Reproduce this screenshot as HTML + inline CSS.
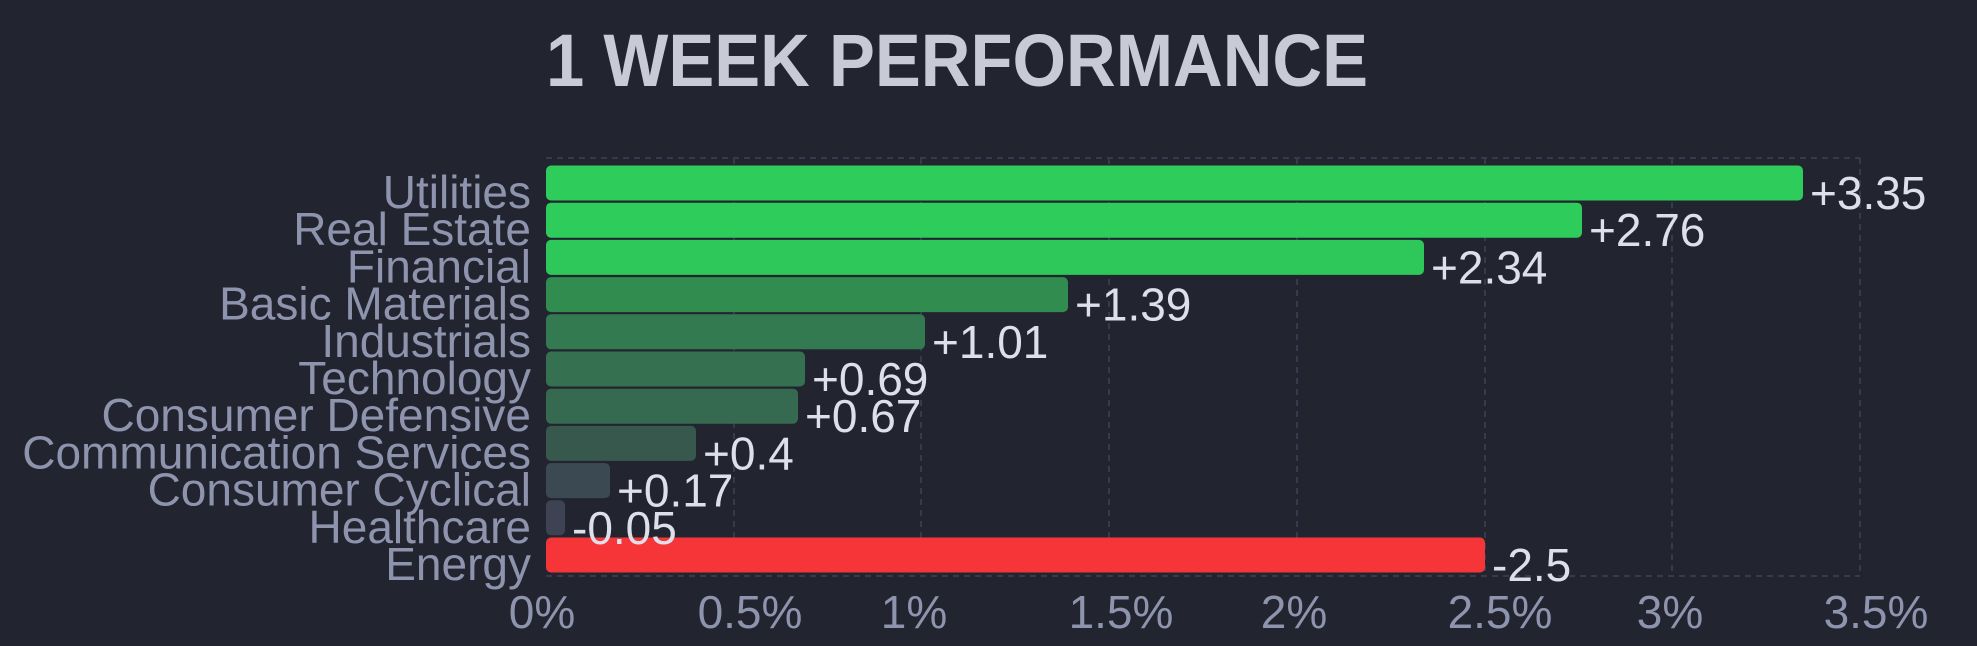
<!DOCTYPE html>
<html><head><style>
html,body{margin:0;padding:0;background:#22252f;}
svg{display:block;}
text{font-family:"Liberation Sans",sans-serif;}
</style></head><body>
<svg width="1977" height="646" viewBox="0 0 1977 646">
<rect width="1977" height="646" fill="#22252f"/>
<text x="546" y="86" font-size="74" font-weight="bold" fill="#c8cad6" textLength="822" lengthAdjust="spacingAndGlyphs">1 WEEK PERFORMANCE</text>
<g stroke="#363a4c" stroke-width="2" stroke-dasharray="6,5">
<line x1="546" y1="158" x2="1860" y2="158"/>
<line x1="546" y1="576" x2="1860" y2="576"/>
<line x1="734" y1="158" x2="734" y2="576"/>
<line x1="921" y1="158" x2="921" y2="576"/>
<line x1="1109" y1="158" x2="1109" y2="576"/>
<line x1="1297" y1="158" x2="1297" y2="576"/>
<line x1="1485" y1="158" x2="1485" y2="576"/>
<line x1="1672" y1="158" x2="1672" y2="576"/>
<line x1="1860" y1="158" x2="1860" y2="576"/>
</g>
<g>
<rect x="546" y="165.5" width="1257" height="35" rx="5" fill="#2ecc5a"/>
<rect x="546" y="202.7" width="1036" height="35" rx="5" fill="#2ecc5a"/>
<rect x="546" y="239.9" width="878" height="35" rx="5" fill="#2ec85a"/>
<rect x="546" y="277.1" width="522" height="35" rx="5" fill="#318c4f"/>
<rect x="546" y="314.3" width="379" height="35" rx="5" fill="#347a50"/>
<rect x="546" y="351.5" width="259" height="35" rx="5" fill="#357050"/>
<rect x="546" y="388.7" width="252" height="35" rx="5" fill="#366a50"/>
<rect x="546" y="425.9" width="150" height="35" rx="5" fill="#37584c"/>
<rect x="546" y="463.1" width="64" height="35" rx="5" fill="#3b4a52"/>
<rect x="546" y="500.3" width="19" height="35" rx="5" fill="#3e4354"/>
<rect x="546" y="537.5" width="939" height="35" rx="5" fill="#f53538"/>
</g>
<g font-size="46" fill="#8e94ad" text-anchor="end">
<text x="531" y="208">Utilities</text>
<text x="531" y="245.2">Real Estate</text>
<text x="531" y="282.4">Financial</text>
<text x="531" y="319.6">Basic Materials</text>
<text x="531" y="356.8">Industrials</text>
<text x="531" y="394">Technology</text>
<text x="531" y="431.2">Consumer Defensive</text>
<text x="531" y="468.4">Communication Services</text>
<text x="531" y="505.6">Consumer Cyclical</text>
<text x="531" y="542.8">Healthcare</text>
<text x="531" y="580">Energy</text>
</g>
<g font-size="46" fill="#dde0ea">
<text x="1810" y="209">+3.35</text>
<text x="1589" y="246.2">+2.76</text>
<text x="1431" y="283.4">+2.34</text>
<text x="1075" y="320.6">+1.39</text>
<text x="932" y="357.8">+1.01</text>
<text x="812" y="395">+0.69</text>
<text x="805" y="432.2">+0.67</text>
<text x="703" y="469.4">+0.4</text>
<text x="617" y="506.6">+0.17</text>
<text x="572" y="543.8">-0.05</text>
<text x="1492" y="581">-2.5</text>
</g>
<g font-size="46" fill="#8e94ad" text-anchor="middle">
<text x="542" y="628">0%</text>
<text x="750" y="628">0.5%</text>
<text x="914" y="628">1%</text>
<text x="1121" y="628">1.5%</text>
<text x="1294" y="628">2%</text>
<text x="1500" y="628">2.5%</text>
<text x="1670" y="628">3%</text>
<text x="1876" y="628">3.5%</text>
</g>
</svg>
</body></html>
